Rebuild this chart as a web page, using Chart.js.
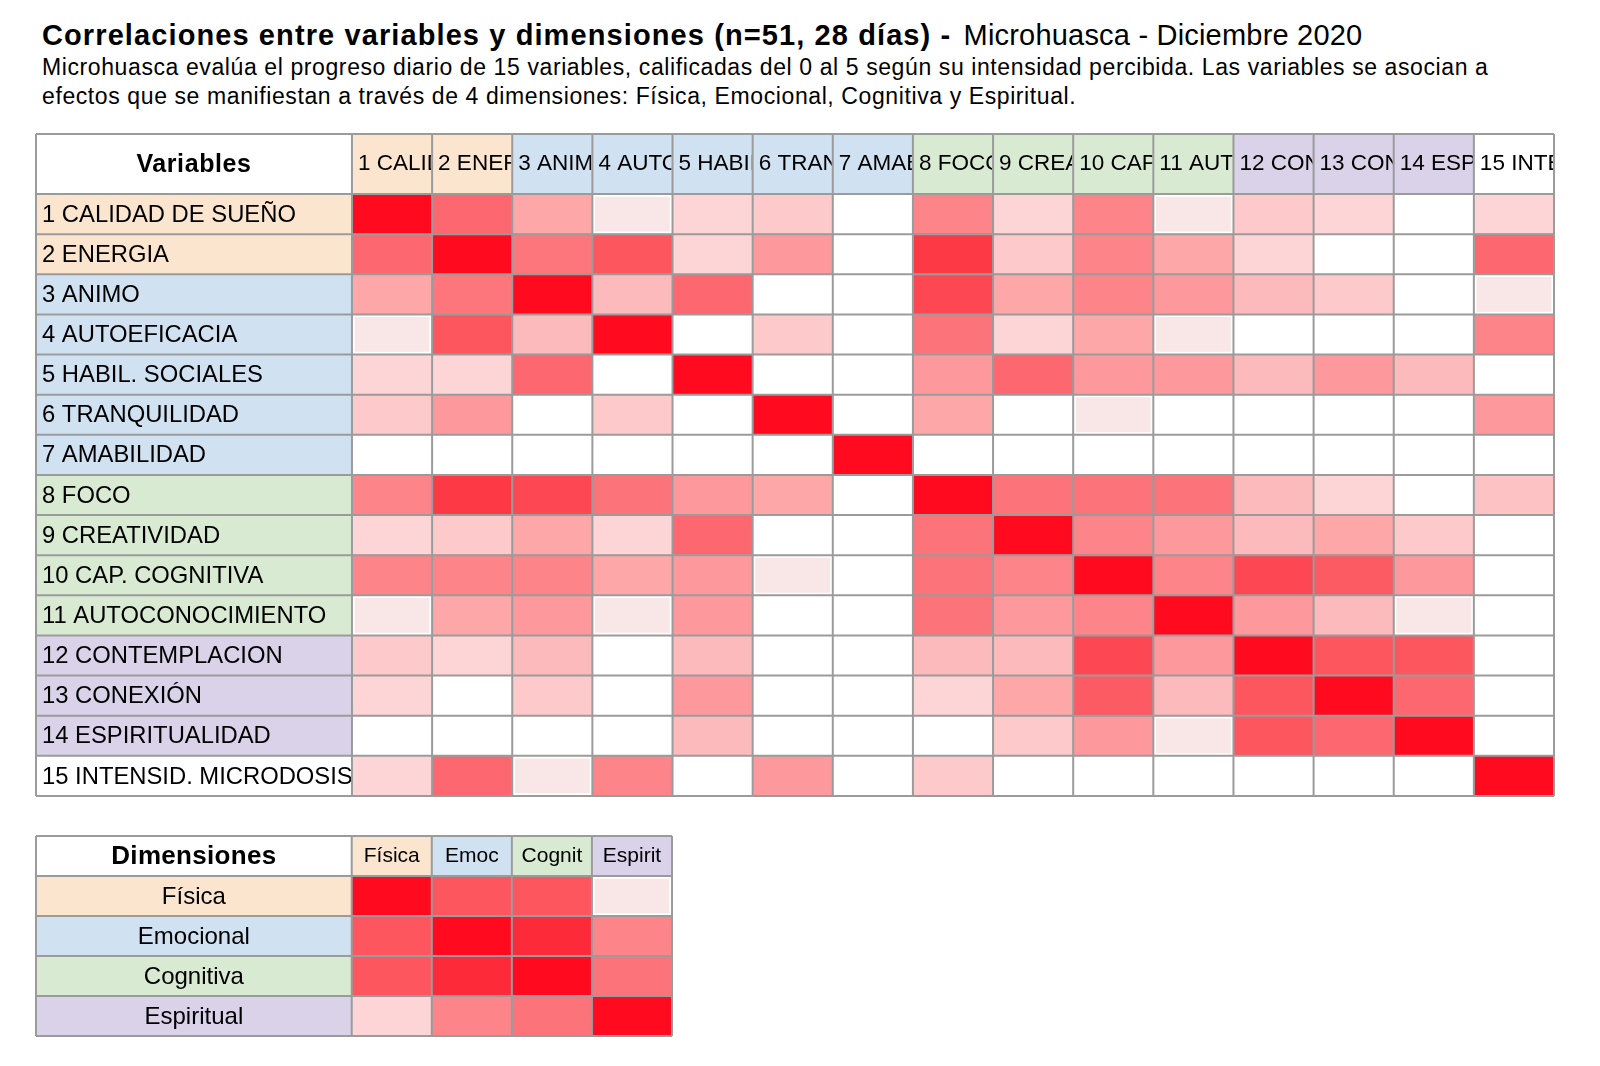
<!DOCTYPE html>
<html>
<head>
<meta charset="utf-8">
<script src="https://cdn.jsdelivr.net/npm/chart.js@4.4.1/dist/chart.umd.min.js"></script>
<style>
  body { margin: 0; background: #fff; width: 1600px; height: 1066px; position: relative; overflow: hidden;
         font-family: "Liberation Sans", Arial, sans-serif; color: #000; }
  #title { position: absolute; left: 42px; top: 20px; font-size: 29px; line-height: 30px; white-space: nowrap; letter-spacing: 0.2px; }
  #title b { letter-spacing: 1.1px; margin-right: 4px; }
  #sub { position: absolute; left: 42px; top: 53px; font-size: 23px; line-height: 29px; width: 1530px; letter-spacing: 0.6px; }
  #tabla1 { position: absolute; left: 35px; top: 133px; }
  #tabla2 { position: absolute; left: 35px; top: 835px; }
</style>
</head>
<body>
<div id="title"><b>Correlaciones entre variables y dimensiones (n=51, 28 días) -</b> Microhuasca - Diciembre 2020</div>
<div id="sub">Microhuasca evalúa el progreso diario de 15 variables, calificadas del 0 al 5 según su intensidad percibida. Las variables se asocian a<br>efectos que se manifiestan a través de 4 dimensiones: Física, Emocional, Cognitiva y Espiritual.</div>
<canvas id="tabla1" width="1520" height="664"></canvas>
<canvas id="tabla2" width="638" height="202"></canvas>
<script>
// variables (filas y columnas de la matriz)
const variables = ['1 CALIDAD DE SUEÑO', '2 ENERGIA', '3 ANIMO', '4 AUTOEFICACIA', '5 HABIL. SOCIALES',
  '6 TRANQUILIDAD', '7 AMABILIDAD', '8 FOCO', '9 CREATIVIDAD', '10 CAP. COGNITIVA',
  '11 AUTOCONOCIMIENTO', '12 CONTEMPLACION', '13 CONEXIÓN', '14 ESPIRITUALIDAD', '15 INTENSID. MICRODOSIS'];
// dimension de cada variable (0 fisica, 1 emocional, 2 cognitiva, 3 espiritual, -1 ninguna)
const varDimension = [0, 0, 1, 1, 1, 1, 1, 2, 2, 2, 2, 3, 3, 3, -1];

// correlaciones estimadas (negativo = casi nulo / negativo)
const corrVariables = [
  [1, 0.62, 0.36, -0.1, 0.17, 0.22, 0, 0.5, 0.17, 0.5, -0.1, 0.22, 0.17, 0, 0.17],
  [0.62, 1, 0.56, 0.69, 0.17, 0.42, 0, 0.81, 0.22, 0.5, 0.36, 0.17, 0, 0, 0.62],
  [0.36, 0.56, 1, 0.28, 0.62, 0, 0, 0.75, 0.36, 0.5, 0.42, 0.28, 0.22, 0, -0.1],
  [-0.1, 0.69, 0.28, 1, 0, 0.22, 0, 0.57, 0.17, 0.36, -0.1, 0, 0, 0, 0.5],
  [0.17, 0.17, 0.62, 0, 1, 0, 0, 0.42, 0.62, 0.42, 0.42, 0.28, 0.42, 0.28, 0],
  [0.22, 0.42, 0, 0.22, 0, 1, 0, 0.36, 0, -0.1, 0, 0, 0, 0, 0.42],
  [0, 0, 0, 0, 0, 0, 1, 0, 0, 0, 0, 0, 0, 0, 0],
  [0.5, 0.81, 0.75, 0.57, 0.42, 0.36, 0, 1, 0.57, 0.57, 0.57, 0.28, 0.17, 0, 0.25],
  [0.17, 0.22, 0.36, 0.17, 0.62, 0, 0, 0.57, 1, 0.5, 0.42, 0.28, 0.36, 0.22, 0],
  [0.5, 0.5, 0.5, 0.36, 0.42, -0.1, 0, 0.57, 0.5, 1, 0.5, 0.75, 0.67, 0.42, 0],
  [-0.1, 0.36, 0.42, -0.1, 0.42, 0, 0, 0.57, 0.42, 0.5, 1, 0.42, 0.28, -0.1, 0],
  [0.22, 0.17, 0.28, 0, 0.28, 0, 0, 0.28, 0.28, 0.75, 0.42, 1, 0.69, 0.69, 0],
  [0.17, 0, 0.22, 0, 0.42, 0, 0, 0.17, 0.36, 0.67, 0.28, 0.69, 1, 0.62, 0],
  [0, 0, 0, 0, 0.28, 0, 0, 0, 0.22, 0.42, -0.1, 0.69, 0.62, 1, 0],
  [0.17, 0.62, -0.1, 0.5, 0, 0.42, 0, 0.22, 0, 0, 0, 0, 0, 0, 1]
];

// dimensiones
const dimensiones = ['Física', 'Emocional', 'Cognitiva', 'Espiritual'];
const dimCortas = ['Física', 'Emoc', 'Cognit', 'Espirit'];
const corrDimensiones = [
  [1, 0.69, 0.69, -0.1],
  [0.69, 1, 0.87, 0.5],
  [0.69, 0.87, 1, 0.57],
  [0.17, 0.5, 0.57, 1]
];

const dimColors = ['#fce5cf', '#d0e1f2', '#d9ead3', '#d9d2e9'];
const FONT = '"Liberation Sans", Arial, sans-serif';
const LINE = '#9b9b9b';
const XMIN = -3.943;

function heatColor(v) {
  if (v < 0) return '#f9e6e6';
  if (v <= 0) return '#ffffff';
  const g = Math.round(255 - 245 * v);
  const b = Math.round(255 - 245 * v + 20 * v * v);
  return 'rgb(' + (v >= 1 ? 255 : 253) + ',' + g + ',' + b + ')';
}
function dimColor(d) { return d < 0 ? '#ffffff' : dimColors[d]; }

// plugin para cabecera, etiquetas y lineas de la tabla
function tablePlugin(cfg) {
  return {
    id: 'tabla',
    afterDatasetsDraw(chart) {
      const ctx = chart.ctx, x = chart.scales.x, y = chart.scales.y, area = chart.chartArea;
      const top = 1, n = cfg.colLabels.length;
      const xs = [XMIN];
      for (let j = 0; j <= n; j++) xs.push(j);
      const px = xs.map(v => x.getPixelForValue(v));
      const rowLines = [area.top];
      for (let i = 0; i < cfg.rowLabels.length - 1; i++) {
        rowLines.push((y.getPixelForValue(i) + y.getPixelForValue(i + 1)) / 2);
      }
      rowLines.push(area.bottom);

      ctx.save();
      // cabecera
      ctx.fillStyle = '#ffffff';
      ctx.fillRect(px[0], top, px[1] - px[0], area.top - top);
      ctx.fillStyle = '#000';
      ctx.font = 'bold ' + cfg.headSize + 'px ' + FONT;
      ctx.letterSpacing = cfg.headSpacing + 'px';
      ctx.textAlign = 'center';
      ctx.textBaseline = 'middle';
      ctx.fillText(cfg.headText, (px[0] + px[1]) / 2, (top + area.top) / 2 + 1);
      ctx.letterSpacing = '0px';
      for (let j = 0; j < n; j++) {
        const x0 = px[j + 1], x1 = px[j + 2];
        ctx.fillStyle = dimColor(cfg.colDims[j]);
        ctx.fillRect(x0, top, x1 - x0, area.top - top);
        ctx.save();
        ctx.beginPath();
        ctx.rect(x0, top, x1 - x0 - 1, area.top - top);
        ctx.clip();
        ctx.fillStyle = '#000';
        ctx.font = cfg.colSize + 'px ' + FONT;
        if (cfg.colCenter) {
          ctx.textAlign = 'center';
          ctx.fillText(cfg.colLabels[j], (x0 + x1) / 2, (top + area.top) / 2);
        } else {
          ctx.textAlign = 'left';
          ctx.fillText(cfg.colLabels[j], x0 + 6, (top + area.top) / 2);
        }
        ctx.restore();
      }
      // etiquetas de filas
      ctx.font = cfg.rowSize + 'px ' + FONT;
      cfg.rowLabels.forEach((lab, i) => {
        const cy = y.getPixelForValue(i);
        ctx.save();
        ctx.beginPath();
        ctx.rect(px[0], rowLines[i], px[1] - px[0] - 1, rowLines[i + 1] - rowLines[i]);
        ctx.clip();
        ctx.fillStyle = '#000';
        if (cfg.rowCenter) {
          ctx.textAlign = 'center';
          ctx.fillText(lab, (px[0] + px[1]) / 2, cy + 1);
        } else {
          ctx.textAlign = 'left';
          ctx.fillText(lab, px[0] + 6, cy + 1);
        }
        ctx.restore();
      });
      // lineas
      ctx.strokeStyle = LINE;
      ctx.lineWidth = 2;
      ctx.beginPath();
      px.forEach(p => { ctx.moveTo(p, top); ctx.lineTo(p, area.bottom); });
      [top].concat(rowLines).forEach(r => { ctx.moveTo(px[0], r); ctx.lineTo(px[px.length - 1], r); });
      ctx.stroke();
      ctx.restore();
    }
  };
}

function buildDatasets(rowDims, matrix) {
  const sets = [{
    data: rowDims.map(() => [XMIN, 0]),
    backgroundColor: rowDims.map(d => dimColor(d)),
    borderWidth: 0
  }];
  for (let j = 0; j < matrix.length; j++) {
    sets.push({
      data: matrix.map(() => [j, j + 1]),
      backgroundColor: matrix.map(row => heatColor(row[j])),
      borderColor: '#ffffff',
      borderWidth: matrix.map(row => row[j] < 0 ? 3 : 0),
      borderSkipped: false
    });
  }
  return sets;
}

function makeTable(id, rowLabels, rowDims, matrix, xmax, padTop, cfg) {
  return new Chart(document.getElementById(id), {
    type: 'bar',
    data: { labels: rowLabels, datasets: buildDatasets(rowDims, matrix) },
    options: {
      indexAxis: 'y',
      responsive: false,
      animation: false,
      devicePixelRatio: 1,
      layout: { padding: { top: padTop, left: 1, right: 1, bottom: 1 } },
      datasets: { bar: { grouped: false, barPercentage: 1, categoryPercentage: 1 } },
      plugins: { legend: { display: false }, tooltip: { enabled: false } },
      scales: {
        x: { type: 'linear', min: XMIN, max: xmax, display: false },
        y: { type: 'category', display: false, offset: true }
      }
    },
    plugins: [tablePlugin(cfg)]
  });
}

makeTable('tabla1', variables, varDimension, corrVariables, 15, 61, {
  headText: 'Variables', headSize: 25, headSpacing: 0.6,
  colLabels: variables, colDims: varDimension, colSize: 22.5, colCenter: false,
  rowLabels: variables, rowSize: 23.8, rowCenter: false
});

makeTable('tabla2', dimensiones, [0, 1, 2, 3], corrDimensiones, 4, 41, {
  headText: 'Dimensiones', headSize: 26, headSpacing: 0.3,
  colLabels: dimCortas, colDims: [0, 1, 2, 3], colSize: 21, colCenter: true,
  rowLabels: dimensiones, rowSize: 24, rowCenter: true
});
</script>
</body>
</html>
